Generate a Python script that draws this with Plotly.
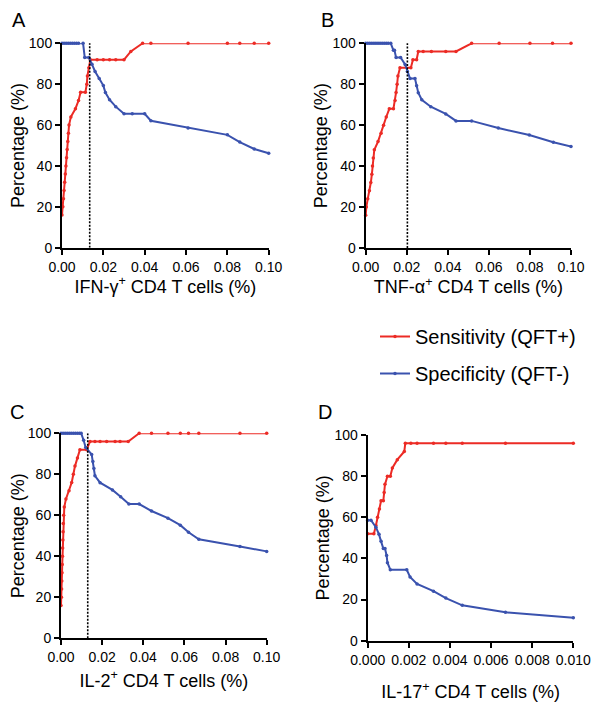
import plotly.graph_objects as go

# panel A - IFN-gamma
a_sens_x = [0, 0.0004, 0.0007, 0.001, 0.0013, 0.0016, 0.0019, 0.0022, 0.0025, 0.0028, 0.0031, 0.0034, 0.0043,
            0.0065, 0.008, 0.009, 0.0113, 0.012, 0.0123, 0.013, 0.0137, 0.017, 0.020, 0.023, 0.026, 0.030,
            0.0333, 0.039, 0.043, 0.061, 0.080, 0.086, 0.093, 0.10]
a_sens_y = [16, 20, 24, 28, 32, 36, 40, 44, 48, 52, 56, 60, 64,
            68, 72, 76, 76, 80, 84, 88, 92, 92, 92, 92, 92, 92,
            96, 100, 100, 100, 100, 100, 100, 100]
a_spec_x = [0, 0.001, 0.002, 0.003, 0.004, 0.005, 0.006, 0.007, 0.008, 0.0102, 0.011, 0.013, 0.0145, 0.016,
            0.018, 0.020, 0.021, 0.023, 0.026, 0.030, 0.034, 0.040, 0.043, 0.061, 0.080, 0.086, 0.093, 0.10]
a_spec_y = [100, 100, 100, 100, 100, 100, 100, 100, 100, 100, 93.1, 93.1, 89.7, 86.2,
            82.8, 79.3, 75.9, 72.4, 69.0, 65.5, 65.5, 65.5, 62.1, 58.6, 55.2, 51.7, 48.3, 46.2]
a_cut = 0.0134

# panel B - TNF-alpha
b_sens_x = [0, 0.0003, 0.001, 0.0018, 0.0025, 0.003, 0.0033, 0.0037, 0.0042,
            0.006, 0.0075, 0.0087, 0.0100, 0.0115, 0.0135, 0.0143, 0.0148, 0.0153, 0.0157, 0.0167, 0.022,
            0.023, 0.0248, 0.0256, 0.028, 0.032, 0.039, 0.044, 0.0516, 0.065, 0.080, 0.091, 0.10]
b_sens_y = [16, 20, 24, 28, 32, 36, 40, 44, 48,
            52, 56, 60, 64, 68, 68, 72, 76, 80, 84, 88, 88,
            92, 92, 96, 96, 96, 96, 96, 100, 100, 100, 100, 100]
b_spec_x = [0, 0.001, 0.002, 0.003, 0.004, 0.005, 0.006, 0.007, 0.008, 0.009, 0.010, 0.011, 0.0122,
            0.0135, 0.014, 0.0148, 0.017, 0.0192, 0.0203, 0.0216, 0.024, 0.0248, 0.0256, 0.0273, 0.0317,
            0.039, 0.044, 0.0516, 0.0646, 0.0797, 0.0914, 0.10]
b_spec_y = [100, 100, 100, 100, 100, 100, 100, 100, 100, 100, 100, 100, 100,
            96.6, 96.6, 93.1, 93.1, 89.7, 86.2, 82.8, 82.8, 79.3, 75.9, 72.4, 69.0,
            65.5, 62.1, 62.1, 58.6, 55.2, 51.7, 49.6]
b_cut = 0.0203

# panel C - IL-2
c_sens_x = [0, 0.0002, 0.0003, 0.0004, 0.0005, 0.0006, 0.0007, 0.0008, 0.0009, 0.001, 0.0011, 0.0013,
            0.0016, 0.0024, 0.0039, 0.0052, 0.006, 0.0068, 0.008, 0.0092, 0.0125, 0.0141, 0.0165, 0.019,
            0.0222, 0.0263, 0.0287, 0.0327, 0.038, 0.044, 0.052, 0.058, 0.062, 0.067, 0.087, 0.10]
c_sens_y = [16, 20, 24, 28, 32, 36, 40, 44, 48, 52, 56, 60,
            64, 68, 72, 76, 80, 84, 88, 92, 92, 96, 96, 96,
            96, 96, 96, 96, 100, 100, 100, 100, 100, 100, 100, 100]
c_spec_x = [0, 0.001, 0.002, 0.003, 0.004, 0.005, 0.006, 0.007, 0.008, 0.009, 0.0098, 0.011, 0.012,
            0.0149, 0.0155, 0.016, 0.0165, 0.019, 0.025, 0.029, 0.033, 0.038, 0.044, 0.052, 0.058,
            0.062, 0.067, 0.087, 0.10]
c_spec_y = [100, 100, 100, 100, 100, 100, 100, 100, 100, 100, 100, 96.6, 93.1,
            89.7, 86.2, 82.8, 79.3, 75.9, 72.4, 69.0, 65.5, 65.5, 62.1, 58.6, 55.2,
            51.7, 48.3, 44.8, 42.4]
c_cut = 0.013

# panel D - IL-17
d_sens_x = [0, 0.0003, 0.0004, 0.00048, 0.00057, 0.00065, 0.00076, 0.0008, 0.00084, 0.00096, 0.0011, 0.0012,
            0.00144, 0.00178, 0.00183, 0.0021, 0.0024, 0.0032, 0.0038, 0.0046, 0.0067, 0.010]
d_sens_y = [52, 52, 56, 60, 64, 68, 68, 72, 76, 80, 80, 84,
            88, 92, 96, 96, 96, 96, 96, 96, 96, 96]
d_spec_x = [0, 0.00016, 0.0004, 0.00055, 0.00065, 0.00076, 0.00084, 0.00092, 0.00096, 0.0011, 0.0019,
            0.00206, 0.0024, 0.0032, 0.0038, 0.0046, 0.0067, 0.010]
d_spec_y = [58.6, 58.6, 55.2, 51.7, 48.3, 44.8, 44.8, 41.4, 37.9, 34.5, 34.5,
            31.0, 27.6, 24.1, 20.7, 17.2, 13.8, 11.1]

RED = "#EC2B25"
BLUE = "#3A52AE"
OFF = 8  # the page body margin pushes the figure in by 8px
W, H = 602 - OFF, 708 - OFF
FONT = "Liberation Sans, Arial, Helvetica, sans-serif"


def px(x):
    return (x - OFF) / W


def py(y):
    return 1 - (y - OFF) / H


panels = [
    # letter, sens, spec, cut, xtitle, xmax, dtick, fmt, box (left, right, top, bottom px), letter pos, standoff
    ("A", (a_sens_x, a_sens_y), (a_spec_x, a_spec_y), a_cut, "IFN-γ<sup>+</sup> CD4 T cells (%)",
     0.10, 0.02, ".2f", (62, 268.7, 43.3, 247.7), (19, 20), 2),
    ("B", (b_sens_x, b_sens_y), (b_spec_x, b_spec_y), b_cut, "TNF-α<sup>+</sup> CD4 T cells (%)",
     0.10, 0.02, ".2f", (365.7, 571, 43.3, 248), (327, 20), 2),
    ("C", (c_sens_x, c_sens_y), (c_spec_x, c_spec_y), c_cut, "IL-2<sup>+</sup> CD4 T cells (%)",
     0.10, 0.02, ".2f", (61, 266.7, 433.3, 638.3), (17, 412), 10),
    ("D", (d_sens_x, d_sens_y), (d_spec_x, d_spec_y), None, "IL-17<sup>+</sup> CD4 T cells (%)",
     0.010, 0.002, ".3f", (367.7, 573.3, 435, 640.7), (325, 412), 19),
]

fig = go.Figure()
annotations = []

for i, (letter, sens, spec, cut, xtitle, xmax, dtick, fmt, box, lpos, standoff) in enumerate(panels):
    n = "" if i == 0 else str(i + 1)
    xa, ya = "x" + n, "y" + n
    first = i == 0
    fig.add_trace(go.Scatter(x=sens[0], y=sens[1], mode="lines+markers", xaxis=xa, yaxis=ya,
                             line=dict(color=RED, width=2), marker=dict(size=3.5, color=RED),
                             name="Sensitivity (QFT+)", showlegend=first, legendgroup="sens",
                             cliponaxis=False))
    fig.add_trace(go.Scatter(x=spec[0], y=spec[1], mode="lines+markers", xaxis=xa, yaxis=ya,
                             line=dict(color=BLUE, width=2), marker=dict(size=3.5, color=BLUE),
                             name="Specificity (QFT-)", showlegend=first, legendgroup="spec",
                             cliponaxis=False))
    if cut is not None:
        fig.add_trace(go.Scatter(x=[cut, cut], y=[0, 101], mode="lines", xaxis=xa, yaxis=ya,
                                 line=dict(color="black", width=1.6, dash="2px,1.5px"),
                                 showlegend=False, hoverinfo="skip", cliponaxis=False))
    l, r, t, b = box
    axis_common = dict(showline=True, linecolor="black", linewidth=2, ticks="outside",
                       ticklen=5, tickwidth=2, tickcolor="black", showgrid=False, zeroline=False,
                       automargin=False,
                       tickfont=dict(size=14, color="black", family=FONT))
    fig.layout["xaxis" + n] = dict(
        domain=[px(l), px(r)], anchor=ya, range=[0, xmax], dtick=dtick, tick0=0, tickformat=fmt,
        title=dict(text=xtitle, font=dict(size=18, color="black", family=FONT), standoff=standoff),
        **axis_common)
    fig.layout["yaxis" + n] = dict(
        domain=[py(b), py(t)], anchor=xa, range=[0, 100], dtick=20,
        title=dict(text="Percentage (%)", font=dict(size=18, color="black", family=FONT), standoff=0),
        **axis_common)
    annotations.append(dict(text=letter, x=px(lpos[0]), y=py(lpos[1]), xref="paper", yref="paper",
                            xanchor="center", yanchor="middle",
                            showarrow=False, font=dict(size=20, color="black", family=FONT)))

fig.update_layout(
    width=W, height=H,
    margin=dict(l=0, r=0, t=0, b=0, autoexpand=False),
    paper_bgcolor="white", plot_bgcolor="white",
    font=dict(family=FONT, color="black"),
    annotations=annotations,
    legend=dict(x=px(375), y=py(317), xanchor="left", yanchor="top",
                font=dict(size=20, color="black", family=FONT),
                itemwidth=30, tracegroupgap=8, bgcolor="rgba(0,0,0,0)"),
)

fig.write_html("out.html")
